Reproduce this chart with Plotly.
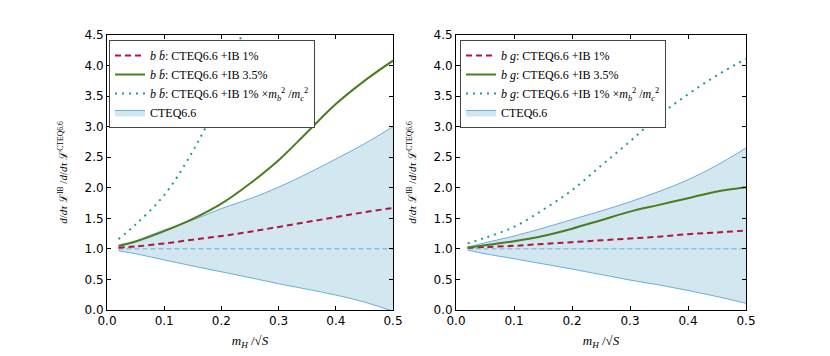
import plotly.graph_objects as go

# m_H / sqrt(S) grid
x_grid = [0.02, 0.05, 0.10, 0.15, 0.20, 0.25, 0.30, 0.35, 0.40, 0.45, 0.50]
x_teal_bb = [0.02, 0.05, 0.10, 0.15, 0.20, 0.25, 0.30]
x_ref = [0.02, 0.50]
y_ref = [1.0, 1.0]

# b bbar panel
bb_ib1 = [1.02, 1.04, 1.09, 1.15, 1.21, 1.28, 1.36, 1.44, 1.52, 1.60, 1.67]
bb_ib35 = [1.05, 1.12, 1.29, 1.49, 1.74, 2.07, 2.45, 2.91, 3.37, 3.75, 4.08]
bb_mass = [1.16, 1.40, 1.88, 2.60, 3.55, 4.95, 6.60]
bb_upper = [1.03, 1.13, 1.31, 1.47, 1.66, 1.82, 2.01, 2.23, 2.47, 2.72, 3.00]
bb_lower = [0.97, 0.92, 0.82, 0.72, 0.625, 0.53, 0.43, 0.34, 0.245, 0.13, -0.02]

# b g panel
bg_ib1 = [1.02, 1.03, 1.05, 1.08, 1.11, 1.14, 1.17, 1.20, 1.24, 1.27, 1.30]
bg_ib35 = [1.02, 1.06, 1.125, 1.21, 1.33, 1.47, 1.61, 1.72, 1.83, 1.94, 2.01]
bg_mass = [1.09, 1.18, 1.36, 1.64, 1.96, 2.36, 2.76, 3.18, 3.53, 3.84, 4.11]
bg_upper = [1.03, 1.10, 1.21, 1.34, 1.48, 1.62, 1.77, 1.94, 2.13, 2.37, 2.65]
bg_lower = [0.98, 0.92, 0.84, 0.755, 0.67, 0.58, 0.49, 0.41, 0.32, 0.22, 0.11]

RED = "#b0173c"
GREEN = "#4a7d1e"
TEAL = "#1f9a9a"
EDGE = "#6baed6"
FILL = "rgba(158,202,225,0.45)"
SERIF = "Liberation Serif"

BB = "<i>b</i> <i>b\u0304</i>"
BG = "<i>b</i> <i>g</i>"
MASS = " \u00d7<i>m</i><sub><i>b</i></sub><sup>2</sup> /<i>m</i><sub><i>c</i></sub><sup>2</sup>"

# page body adds an ~8px offset, so the figure is laid out in shifted pixels
W, H, OFF = 822, 348, 8

fig = go.Figure()


def add_panel(xa, ya, legend, proc, ib1, ib35, mass, x_mass, upper, lower):
    kw = dict(xaxis=xa, yaxis=ya, legend=legend)
    # CTEQ6.6 band (lower edge, then upper edge filled to it)
    fig.add_trace(go.Scatter(x=x_grid, y=lower, mode="lines", line=dict(color=EDGE, width=1, shape="spline"),
                             showlegend=False, hoverinfo="skip", **kw))
    fig.add_trace(go.Scatter(x=x_grid, y=upper, mode="lines", line=dict(color=EDGE, width=1, shape="spline"),
                             fill="tonexty", fillcolor=FILL, name="CTEQ6.6", legendrank=4, **kw))
    fig.add_trace(go.Scatter(x=x_ref, y=y_ref, mode="lines", showlegend=False,
                             line=dict(color=EDGE, width=1, dash="5px,3px"), **kw))
    fig.add_trace(go.Scatter(x=x_grid, y=ib1, mode="lines", line=dict(color=RED, width=2, dash="6px,4px", shape="spline"),
                             name=f"{proc}: CTEQ6.6 +IB 1%", legendrank=1, **kw))
    fig.add_trace(go.Scatter(x=x_grid, y=ib35, mode="lines", line=dict(color=GREEN, width=2, shape="spline"),
                             name=f"{proc}: CTEQ6.6 +IB 3.5%", legendrank=2, **kw))
    fig.add_trace(go.Scatter(x=x_mass, y=mass, mode="lines", line=dict(color=TEAL, width=2, dash="2px,5px,2px,5px", shape="spline"),
                             name=f"{proc}: CTEQ6.6 +IB 1%{MASS}", legendrank=3, **kw))


add_panel("x", "y", "legend", BB, bb_ib1, bb_ib35, bb_mass, x_teal_bb, bb_upper, bb_lower)
add_panel("x2", "y2", "legend2", BG, bg_ib1, bg_ib35, bg_mass, x_grid, bg_upper, bg_lower)

ax_common = dict(showline=True, linecolor="black", linewidth=1, mirror="ticks", ticks="inside",
                 ticklen=4, tickcolor="black", showgrid=False, zeroline=False, automargin=False,
                 tickfont=dict(family="DejaVu Sans", size=12, color="black"))
xt = "<i>m</i><sub><i>H</i></sub> /\u221a<i>S</i>"
yt = ("<i>d</i>/<i>d\u03c4</i> <span style='font-family:DejaVu Serif'>\u2112</span><sup>IB</sup> /"
      "<i>d</i>/<i>d\u03c4</i> <span style='font-family:DejaVu Serif'>\u2112</span><sup>CTEQ6.6</sup>")

ydom = [1 - (310 - OFF) / H, 1 - (35 - OFF) / H]
for xa, ya, (x0, x1) in (("xaxis", "yaxis", (107, 393)), ("xaxis2", "yaxis2", (456, 746))):
    anchor_y = "y" if ya == "yaxis" else "y2"
    anchor_x = "x" if xa == "xaxis" else "x2"
    fig.layout[xa] = dict(domain=[(x0 - OFF) / W, (x1 - OFF) / W], anchor=anchor_y, range=[0, 0.5],
                          dtick=0.1, tickformat=".1f",
                          title=dict(text=xt, font=dict(family=SERIF, size=13, color="black"), standoff=8),
                          **ax_common)
    fig.layout[ya] = dict(domain=ydom, anchor=anchor_x, range=[0, 4.5], dtick=0.5, tickformat=".1f",
                          title=dict(text=yt, font=dict(family=SERIF, size=11, color="black"), standoff=14),
                          **ax_common)

leg_common = dict(xanchor="left", yanchor="top", bgcolor="white", bordercolor="#444", borderwidth=1,
                  traceorder="normal", font=dict(family=SERIF, size=12, color="black"),
                  tracegroupgap=0, itemwidth=30)
fig.update_layout(
    width=W, height=H, margin=dict(l=0, r=0, t=0, b=0),
    paper_bgcolor="white", plot_bgcolor="white",
    legend=dict(x=(109 - OFF) / W, y=1 - (40 - OFF) / H, **leg_common),
    legend2=dict(x=(460 - OFF) / W, y=1 - (40 - OFF) / H, **leg_common),
)

fig.write_html("out.html")
